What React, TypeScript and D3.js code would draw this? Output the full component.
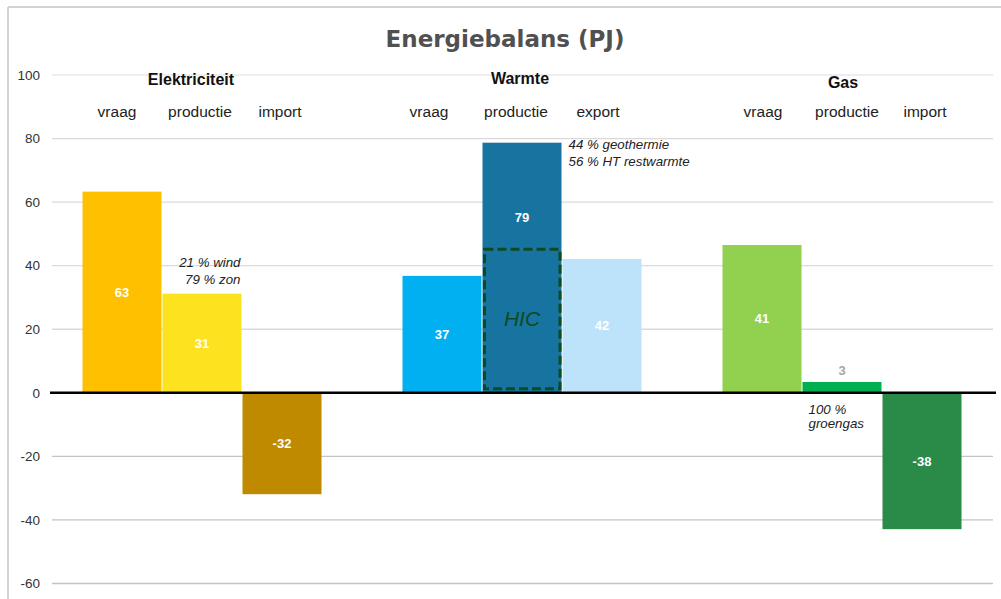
import React from 'react';
import * as d3 from 'd3';

// Energiebalans (PJ)
const GROUPS = ["Elektriciteit", "Warmte", "Gas"];
const SERIES_LABELS = [
    ["vraag", "productie", "import"],
    ["vraag", "productie", "export"],
    ["vraag", "productie", "import"]
];
// bar heights as drawn
const BAR_VALUES = [
    [63.3, 31.2, -31.9],
    [36.8, 78.7, 42.1],
    [46.5, 3.4, -42.9]
];
// numbers printed on the bars
const BAR_LABELS = [
    ["63", "31", "-32"],
    ["37", "79", "42"],
    ["41", "3", "-38"]
];
const Y_TICKS = [-60, -40, -20, 0, 20, 40, 60, 80, 100];
const HIC_RANGE = [1.3, 45.2];
const WARMTE_LABEL_AT = 55.3;

const BAR_COLORS = [
    ["#ffc000", "#fde220", "#bf8a00"],
    ["#00b0f0", "#1774a0", "#bde3fa"],
    ["#92d050", "#00b050", "#2a8a48"]
];

const NOTES = [
    { group: 0, bar: 1, lines: ["21 % wind", "79 % zon"] },
    { group: 1, bar: 1, lines: ["44 % geothermie", "56 % HT restwarmte"] },
    { group: 2, bar: 1, lines: ["100 %", "groengas"] }
];

const W = 1001;
const H = 599;
const SANS = "'Liberation Sans', Arial, sans-serif";

// small hand nudges of the header texts, as in the original slide
const HEAD_DX = [-11, -2, 1];
const HEAD_Y = [85, 84, 88];
const SUB_DX = [[-5, -2, -2], [-13, -6, -4], [1, 5, 3]];

const App: React.FC = () => {
    const xGroup = d3.scaleBand<string>()
        .domain(GROUPS)
        .range([42, 1002])
        .paddingInner(0.25)
        .paddingOuter(0.125);

    const xInner = d3.scaleBand<number>()
        .domain([0, 1, 2])
        .range([0, xGroup.bandwidth()]);

    const y = d3.scaleLinear()
        .domain([-60, 100])
        .range([583.5, 75]);

    const barX = (g: number, i: number) => (xGroup(GROUPS[g]) as number) + (xInner(i) as number) + 0.5;
    const barW = xInner.bandwidth() - 1;

    const gridColor = (t: number) => t === 100 ? "#e8e8e8" : t < 0 ? "#c4c4c4" : "#dadada";

    return (
        <div style={{ position: 'absolute', left: 0, top: 0 }}>
            <svg width={W} height={H} style={{ display: 'block', background: '#fff' }}>
                {/* frame */}
                <line x1={8} x2={W} y1={7} y2={7} stroke="#c4c4c4" strokeWidth={1.5} />
                <line x1={8} x2={8} y1={7} y2={H} stroke="#c4c4c4" strokeWidth={1.5} />

                <text x={505} y={47} textAnchor="middle" fontFamily="'DejaVu Sans', Verdana, sans-serif"
                      fontWeight="bold" fontSize={23} fill="#505050">Energiebalans (PJ)</text>

                {/* grid + y axis */}
                {Y_TICKS.filter(t => t !== 0).map(t => (
                    <line key={t} x1={52} x2={993} y1={y(t)} y2={y(t)} stroke={gridColor(t)} strokeWidth={1.3} />
                ))}
                {Y_TICKS.map(t => (
                    <text key={t} x={40} y={y(t)} dy="0.35em" textAnchor="end"
                          fontFamily={SANS} fontSize={13.5} fill="#333">{t}</text>
                ))}

                {/* group headers */}
                {GROUPS.map((g, gi) => (
                    <g key={g}>
                        <text x={(xGroup(g) as number) + xGroup.bandwidth() / 2 + HEAD_DX[gi]}
                              y={HEAD_Y[gi]} textAnchor="middle" fontFamily={SANS}
                              fontWeight="bold" fontSize={16} fill="#111">{g}</text>
                        {SERIES_LABELS[gi].map((s, si) => (
                            <text key={s} x={barX(gi, si) + barW / 2 + SUB_DX[gi][si]} y={117}
                                  textAnchor="middle" fontFamily={SANS} fontSize={15.5} fill="#222">{s}</text>
                        ))}
                    </g>
                ))}

                {/* bars */}
                {BAR_VALUES.map((vals, gi) => vals.map((v, si) => (
                    <rect key={`${gi}-${si}`} x={barX(gi, si)} width={barW}
                          y={y(Math.max(0, v))} height={Math.abs(y(v) - y(0))}
                          fill={BAR_COLORS[gi][si]} />
                )))}

                {/* HIC box inside warmte productie */}
                <rect x={barX(1, 1) + 2} width={barW - 3.5}
                      y={y(HIC_RANGE[1])} height={y(HIC_RANGE[0]) - y(HIC_RANGE[1])}
                      fill="none" stroke="#0d4a22" strokeWidth={3} strokeDasharray="9 4" />
                <text x={barX(1, 1) + barW / 2} y={y((HIC_RANGE[0] + HIC_RANGE[1]) / 2)} dy="0.35em"
                      textAnchor="middle" fontFamily={SANS} fontStyle="italic" fontSize={21}
                      fill="#0d4a22">HIC</text>

                {/* bar labels */}
                {BAR_VALUES.map((vals, gi) => vals.map((v, si) => {
                    const small = Math.abs(v) < 8;
                    let ly = y(v / 2);
                    if (gi === 1 && si === 1) ly = y(WARMTE_LABEL_AT);
                    if (small) ly = y(v) - 12;
                    return (
                        <text key={`l${gi}-${si}`} x={barX(gi, si) + barW / 2} y={ly} dy="0.35em"
                              textAnchor="middle" fontFamily={SANS} fontWeight="bold" fontSize={13}
                              fill={small ? "#a6a6a6" : "#fff"}>{BAR_LABELS[gi][si]}</text>
                    );
                }))}

                {/* notes */}
                {NOTES.map((n, ni) => {
                    const v = BAR_VALUES[n.group][n.bar];
                    const left = barX(n.group, n.bar);
                    const right = left + barW;
                    const cfg = [
                        { x: right - 1, anchor: "end", y0: y(v) - 26.5, lh: 16.5 },
                        { x: right + 7, anchor: "start", y0: y(v) + 6.5, lh: 16.5 },
                        { x: left + 6, anchor: "start", y0: y(0) + 21, lh: 14 }
                    ][ni];
                    return n.lines.map((line, li) => (
                        <text key={`${ni}-${li}`} x={cfg.x} y={cfg.y0 + li * cfg.lh}
                              textAnchor={cfg.anchor as any} fontFamily={SANS} fontStyle="italic"
                              fontSize={13.3} fill="#222">{line}</text>
                    ));
                })}

                {/* zero line */}
                <line x1={50} x2={996} y1={y(0)} y2={y(0)} stroke="#000" strokeWidth={2.5} />
            </svg>
        </div>
    );
};

export default App;
